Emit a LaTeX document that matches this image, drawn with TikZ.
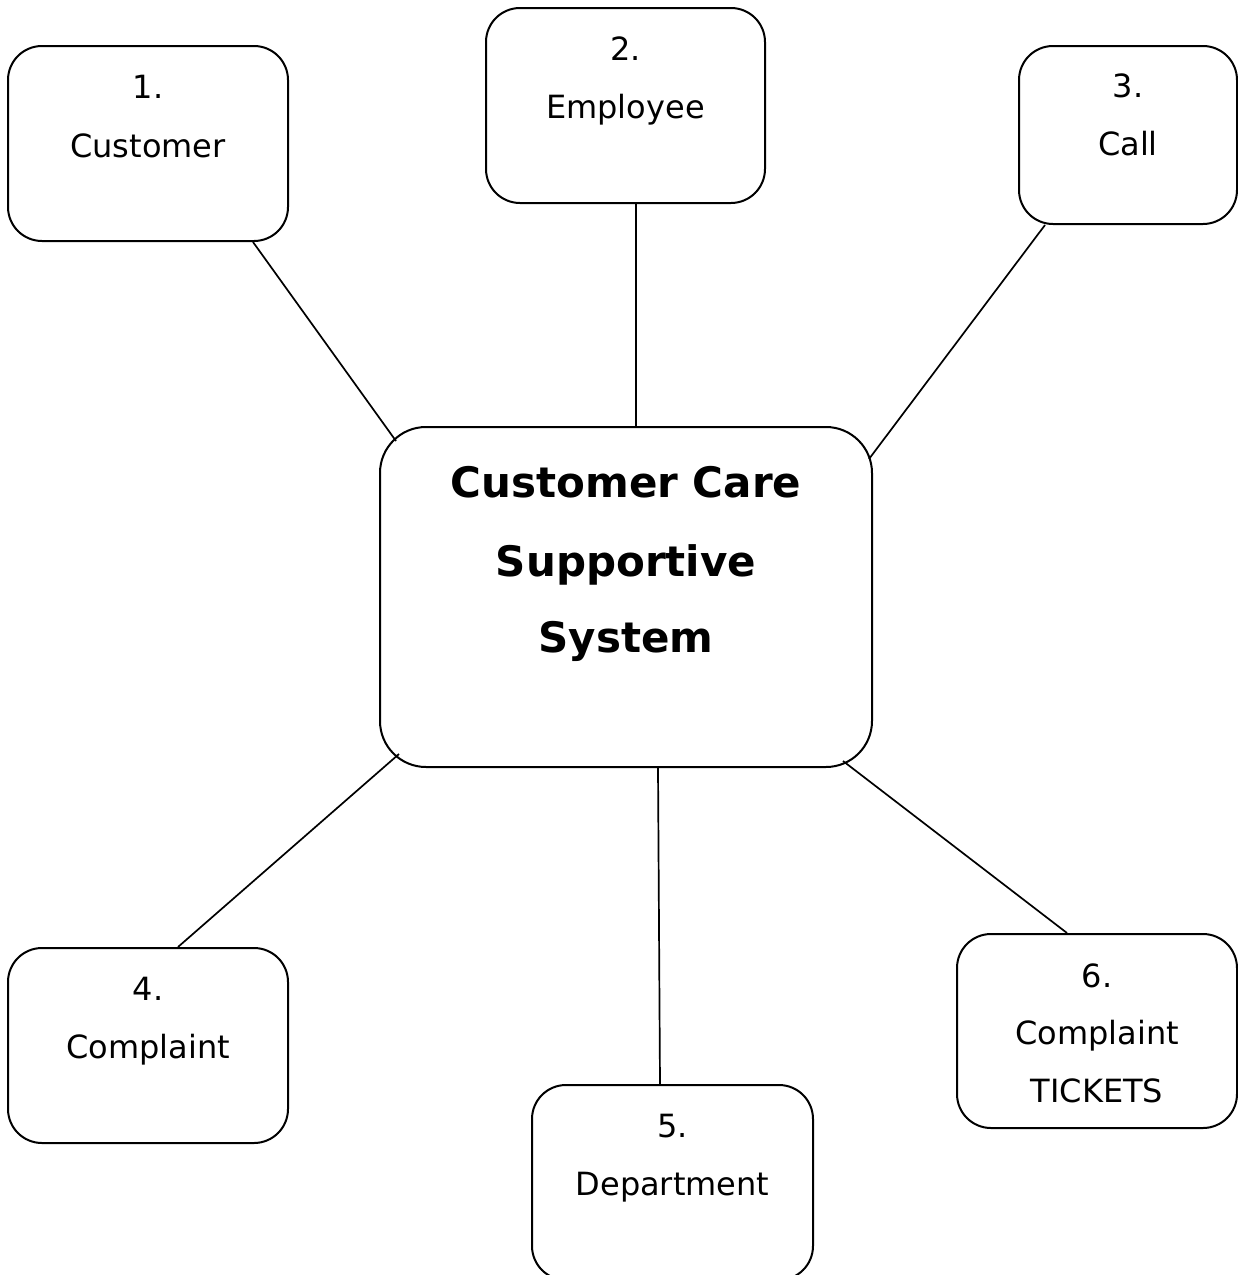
\documentclass[tikz,border=0pt]{standalone}
\usepackage{fontspec}
\setmainfont{DejaVu Sans}
\usetikzlibrary{calc}
\begin{document}
\begin{tikzpicture}[x=1pt,y=-1pt,
  box/.style={draw=black, line width=2pt, rectangle, rounded corners=34pt, inner sep=0pt, fill=white},
  hub/.style={box, rounded corners=46pt},
  lbl/.style={anchor=base, inner sep=0pt, font=\fontsize{32}{38}\selectfont},
  ttl/.style={anchor=base, inner sep=0pt, font=\fontsize{42}{50}\selectfont\bfseries},
  link/.style={draw=black, line width=1.7pt}]
\useasboundingbox (0,0) rectangle (1238,1275);
\clip (0,0) rectangle (1238,1275);

% central system box
\node[hub, minimum width=492pt, minimum height=340pt] (c) at (626,597) {};
\node[ttl] (ct1) at (626,497) {Customer Care};
\node[ttl] (ct2) at (626,576) {Supportive};
\node[ttl] (ct3) at (626,652) {System};

% entity boxes
\node[box, minimum width=280pt, minimum height=195pt] (n1) at (148,143.5) {};
\node[box, minimum width=279pt, minimum height=195pt] (n2) at (625.5,105.5) {};
\node[box, minimum width=218pt, minimum height=178pt] (n3) at (1128,135) {};
\node[box, minimum width=280pt, minimum height=195pt] (n4) at (148,1045.5) {};
\node[box, minimum width=281pt, minimum height=195pt] (n5) at (672.5,1182.5) {};
\node[box, minimum width=280pt, minimum height=194pt] (n6) at (1097,1031) {};

% labels
\node[lbl] (n1a) at (148,98) {1.};
\node[lbl] (n1b) at (148,157) {Customer};
\node[lbl] (n2a) at (625.5,60) {2.};
\node[lbl] (n2b) at (625.5,118) {Employee};
\node[lbl] (n3a) at (1128,97) {3.};
\node[lbl] (n3b) at (1128,155) {Call};
\node[lbl] (n4a) at (148,1000) {4.};
\node[lbl] (n4b) at (148,1058) {Complaint};
\node[lbl] (n5a) at (672.5,1137) {5.};
\node[lbl] (n5b) at (672.5,1195) {Department};
\node[lbl] (n6a) at (1097,987) {6.};
\node[lbl] (n6b) at (1097,1044) {Complaint};
\node[lbl] (n6c) at (1097,1102) {TICKETS};

% connectors
\draw[link] ($(n1.south)+(105,0)$) -- ($(c.north west)+(17,15)$);
\draw[link] ($(n2.south)+(10.5,0)$) -- ($(c.north)+(10,0)$);
\draw[link] ($(n3.south)+(-83,0)$) -- ($(c.north east)+(-4,33)$);
\draw[link] ($(c.south west)+(20,-14)$) -- ($(n4.north)+(30,0)$);
\draw[link] ($(c.south)+(32,0)$) -- ($(n5.north)+(-12.5,0)$);
\draw[link] ($(c.south east)+(-30,-7)$) -- ($(n6.north)+(-30,0)$);
\end{tikzpicture}
\end{document}
